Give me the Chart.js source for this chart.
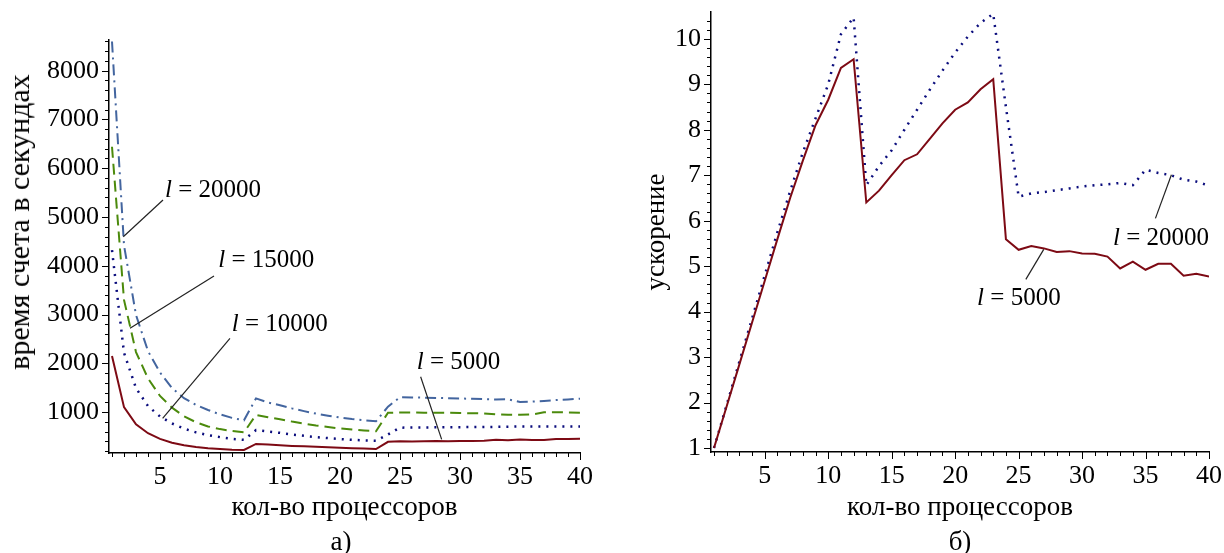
<!DOCTYPE html>
<html>
<head>
<meta charset="utf-8">
<script src="https://cdn.jsdelivr.net/npm/chart.js@4/dist/chart.umd.min.js"></script>
<style>
  body { margin: 0; background: #fff; width: 1224px; height: 553px; overflow: hidden; position: relative; font-family: "Liberation Serif", "Times New Roman", serif; }
  .box { position: absolute; top: 0; height: 530px; }
  #left { left: 0; width: 610px; }
  #right { left: 620px; width: 604px; }
  .txt { position: absolute; font-size: 27px; color: #000; white-space: nowrap; transform: translate(-50%, -50%); }
  #ytitle { left: 19px; top: 222px; font-size: 30px; transform: translate(-50%, -50%) rotate(-90deg); }
</style>
</head>
<body>
<div class="box" id="left"><canvas id="chartA"></canvas></div>
<div class="box" id="right"><canvas id="chartB"></canvas></div>
<div class="txt" id="ytitle">время счета в секундах</div>
<div class="txt" style="left:341px; top:541px;">а)</div>
<div class="txt" style="left:960px; top:541px;">б)</div>
<script>
/* globals Chart:false */
(() => {
    'use strict'

    // число процессоров
    const procs = [1, 2, 3, 4, 5, 6, 7, 8, 9, 10, 11, 12, 13, 14, 15, 16, 17, 18, 19, 20,
        21, 22, 23, 24, 25, 26, 27, 28, 29, 30, 31, 32, 33, 34, 35, 36, 37, 38, 39, 40];

    // а) время счета, сек
    const time5000 = [2150, 1100, 750, 565, 450, 372, 320, 283, 257, 240, 228, 222, 345, 334, 320, 306, 297, 286, 276, 266,
        258, 250, 240, 390, 400, 398, 400, 405, 403, 407, 408, 412, 432, 420, 437, 425, 425, 448, 445, 450];
    const time10000 = [4320, 2215, 1490, 1122, 909, 765, 660, 584, 527, 485, 450, 430, 630, 600, 573, 541, 512, 487, 465, 446,
        430, 418, 412, 540, 680, 682, 684, 686, 688, 690, 692, 694, 696, 700, 705, 706, 706, 706, 706, 706];
    const time15000 = [6440, 3300, 2230, 1690, 1330, 1090, 915, 790, 705, 650, 612, 585, 940, 893, 852, 804, 762, 724, 692, 663,
        640, 622, 605, 985, 990, 990, 988, 986, 984, 980, 976, 970, 955, 945, 942, 950, 995, 995, 992, 988];
    const time20000 = [8600, 4420, 2990, 2250, 1810, 1490, 1285, 1145, 1042, 952, 880, 830, 1280, 1196, 1140, 1075, 1019, 968, 925, 887,
        856, 831, 810, 1110, 1305, 1300, 1295, 1290, 1284, 1278, 1272, 1265, 1258, 1262, 1205, 1215, 1228, 1245, 1258, 1275];

    // б) ускорение
    const speed5000 = [1, 1.92, 2.84, 3.76, 4.68, 5.6, 6.5, 7.32, 8.1, 8.66, 9.36, 9.55, 6.40, 6.66, 7.0, 7.33, 7.46, 7.8, 8.14, 8.44,
        8.6, 8.89, 9.11, 5.59, 5.36, 5.44, 5.39, 5.31, 5.33, 5.28, 5.27, 5.21, 4.95, 5.10, 4.92, 5.05, 5.05, 4.79, 4.83, 4.77];
    const speed20000 = [1, 1.95, 2.9, 3.85, 4.8, 5.75, 6.65, 7.5, 8.25, 9.0, 10.1, 10.47, 6.78, 7.2, 7.55, 8.0, 8.44, 8.88, 9.3, 9.7,
        10.05, 10.35, 10.55, 8.5, 6.53, 6.6, 6.63, 6.67, 6.71, 6.75, 6.78, 6.8, 6.83, 6.78, 7.12, 7.05, 7.0, 6.9, 6.86, 6.77];

    // подписи кривых: текст, точка текста, отрезок выноски (в координатах данных)
    const notesA = [
        { text: '20000', at: [5.42, 5553], from: [5.25, 5348], to: [1.94, 4596] },
        { text: '15000', at: [9.86, 4118], from: [9.5, 3789], to: [2.5, 2717] },
        { text: '10000', at: [10.98, 2805], from: [10.83, 2512], to: [5.22, 871] },
        { text: '5000', at: [26.4, 2015], from: [26.72, 1724], to: [28.47, 440] }
    ];
    const notesB = [
        { text: '20000', at: [32.44, 5.61], from: [35.78, 6.05], to: [37.04, 7.01] },
        { text: '5000', at: [21.73, 4.29], from: [25.57, 4.71], to: [26.98, 5.37] }
    ];

    const FONT = '"Liberation Serif", "Times New Roman", serif';
    Chart.defaults.font.family = FONT;
    Chart.defaults.color = '#000';

    const RED = '#7d0a14';
    const NAVY = '#0b0d7d';
    const GREEN = '#4b8a0c';
    const STEEL = '#43659f';

    const isWhole = (v, step) => Math.abs(v / step - Math.round(v / step)) < 1e-6;

    // засечки: большие у подписанных значений, малые у остальных
    const tickMarks = {
        id: 'tickMarks',
        afterDraw(chart) {
            const { ctx, chartArea: a } = chart;
            ctx.save();
            ctx.strokeStyle = '#000';
            ctx.lineWidth = 1;
            Object.values(chart.scales).forEach(s => {
                s.ticks.forEach(t => {
                    const len = t.label !== '' ? 7 : 4;
                    const p = Math.round(s.getPixelForValue(t.value)) + 0.5;
                    ctx.beginPath();
                    if (s.axis === 'x') {
                        ctx.moveTo(p, a.bottom);
                        ctx.lineTo(p, a.bottom + len);
                    } else {
                        ctx.moveTo(a.left - len, p);
                        ctx.lineTo(a.left, p);
                    }
                    ctx.stroke();
                });
            });
            ctx.restore();
        }
    };

    function curveNotes(items) {
        return {
            id: 'curveNotes',
            afterDatasetsDraw(chart) {
                const { ctx, scales: { x, y } } = chart;
                ctx.save();
                items.forEach(it => {
                    ctx.strokeStyle = '#222';
                    ctx.lineWidth = 1.2;
                    ctx.beginPath();
                    ctx.moveTo(x.getPixelForValue(it.from[0]), y.getPixelForValue(it.from[1]));
                    ctx.lineTo(x.getPixelForValue(it.to[0]), y.getPixelForValue(it.to[1]));
                    ctx.stroke();
                    let px = x.getPixelForValue(it.at[0]);
                    const py = y.getPixelForValue(it.at[1]);
                    ctx.fillStyle = '#000';
                    ctx.textBaseline = 'middle';
                    ctx.font = 'italic 25px ' + FONT;
                    ctx.fillText('l', px, py);
                    px += ctx.measureText('l').width;
                    ctx.font = '25px ' + FONT;
                    ctx.fillText(' = ' + it.text, px, py);
                });
                ctx.restore();
            }
        };
    }

    const points = vals => procs.map((p, i) => ({ x: p, y: vals[i] }));

    function series(vals, color, dash, width) {
        return {
            data: points(vals),
            borderColor: color,
            borderWidth: width || 2,
            borderDash: dash || [],
            pointRadius: 0,
            tension: 0,
            fill: false
        };
    }

    function xScale(min, height) {
        return {
            type: 'linear',
            min: min,
            max: 40,
            grid: { display: false, drawTicks: false },
            border: { display: true, color: '#000', width: 1.5 },
            ticks: {
                stepSize: 1,
                includeBounds: false,
                autoSkip: false,
                maxRotation: 0,
                padding: 9,
                font: { size: 26 },
                callback: v => isWhole(v, 5) ? String(Math.round(v)) : ''
            },
            title: { display: true, text: 'кол-во процессоров', font: { size: 27 }, padding: 0 },
            afterFit: s => { s.height = height; s.paddingLeft = 0; s.paddingRight = 0; }
        };
    }

    function yScale(min, max, step, major, width, title) {
        return {
            type: 'linear',
            min: min,
            max: max,
            grid: { display: false, drawTicks: false },
            border: { display: true, color: '#000', width: 1.5 },
            ticks: {
                stepSize: step,
                includeBounds: false,
                autoSkip: false,
                padding: 10,
                font: { size: 26 },
                callback: v => isWhole(v, major) ? String(Math.round(v)) : ''
            },
            title: title ? { display: true, text: title, font: { size: 27 }, padding: 0 } : { display: false },
            afterFit: s => { s.width = width; s.paddingTop = 0; s.paddingBottom = 0; }
        };
    }

    const common = {
        responsive: true,
        maintainAspectRatio: false,
        animation: false,
        events: [],
        plugins: { legend: { display: false }, tooltip: { enabled: false } }
    };

    // а) время счета
    new Chart(document.getElementById('chartA'), {
        type: 'line',
        data: {
            datasets: [
                series(time5000, RED),
                series(time10000, NAVY, [2, 6], 2.5),
                series(time15000, GREEN, [11, 6]),
                series(time20000, STEEL, [11, 5, 2, 5])
            ]
        },
        options: Object.assign({}, common, {
            layout: { padding: { top: 40, left: 0, right: 30, bottom: 6 } },
            scales: {
                x: xScale(0.75, 71),
                y: yScale(160, 8630, 200, 1000, 109, null)
            }
        }),
        plugins: [tickMarks, curveNotes(notesA)]
    });

    // б) ускорение
    new Chart(document.getElementById('chartB'), {
        type: 'line',
        data: {
            datasets: [
                series(speed5000, RED),
                series(speed20000, NAVY, [2, 6], 2.5)
            ]
        },
        options: Object.assign({}, common, {
            layout: { padding: { top: 12, left: 21, right: 15, bottom: 6 } },
            scales: {
                x: xScale(0.764, 72),
                y: yScale(0.912, 10.59, 0.2, 1, 70, 'ускорение')
            }
        }),
        plugins: [tickMarks, curveNotes(notesB)]
    });
})();
</script>
</body>
</html>
